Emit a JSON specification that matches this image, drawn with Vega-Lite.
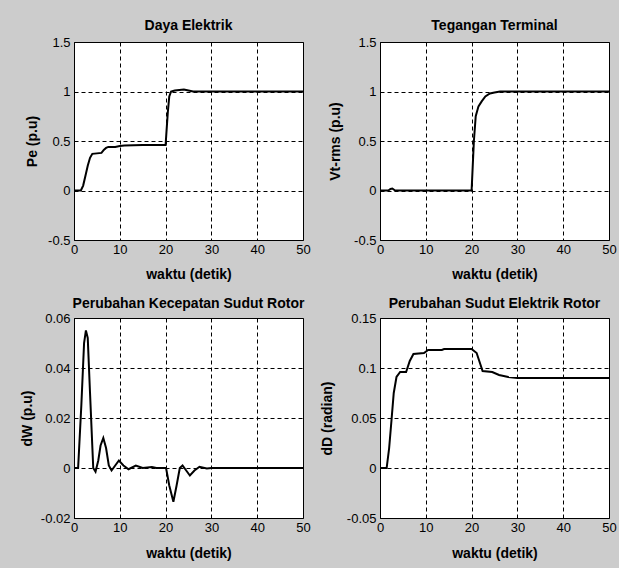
{
  "$schema": "https://vega.github.io/schema/vega-lite/v6.json",
  "autosize": {"type": "none"},
  "padding": {"left": 74, "top": 42, "right": 545, "bottom": 526},
  "background": "#cccccc",
  "datasets": {
    "pe": [
      {"t": 0, "v": 0}, {"t": 1.5, "v": 0}, {"t": 2, "v": 0.05}, {"t": 2.5, "v": 0.15}, {"t": 3, "v": 0.25},
      {"t": 3.5, "v": 0.33}, {"t": 4, "v": 0.37}, {"t": 5, "v": 0.375}, {"t": 6, "v": 0.38}, {"t": 6.5, "v": 0.41},
      {"t": 7, "v": 0.43}, {"t": 7.5, "v": 0.44}, {"t": 9, "v": 0.44}, {"t": 10, "v": 0.45}, {"t": 11, "v": 0.455},
      {"t": 15, "v": 0.46}, {"t": 20, "v": 0.46}, {"t": 20.2, "v": 0.6}, {"t": 20.5, "v": 0.8}, {"t": 20.8, "v": 0.95},
      {"t": 21.2, "v": 1.0}, {"t": 22, "v": 1.01}, {"t": 23, "v": 1.015}, {"t": 24, "v": 1.02}, {"t": 25, "v": 1.01},
      {"t": 26, "v": 1.0}, {"t": 50, "v": 1.0}
    ],
    "vt": [
      {"t": 0, "v": 0}, {"t": 1.8, "v": 0}, {"t": 2.3, "v": 0.015}, {"t": 2.7, "v": 0.02}, {"t": 3.3, "v": 0},
      {"t": 20, "v": 0}, {"t": 20.3, "v": 0.3}, {"t": 20.5, "v": 0.5}, {"t": 20.9, "v": 0.75}, {"t": 21.5, "v": 0.85},
      {"t": 22.2, "v": 0.9}, {"t": 23, "v": 0.95}, {"t": 24, "v": 0.98}, {"t": 25, "v": 0.99}, {"t": 26.2, "v": 1.0},
      {"t": 50, "v": 1.0}
    ],
    "dw": [
      {"t": 0, "v": 0}, {"t": 0.9, "v": 0}, {"t": 1.6, "v": 0.025}, {"t": 2.2, "v": 0.05}, {"t": 2.6, "v": 0.055},
      {"t": 3.0, "v": 0.052}, {"t": 3.5, "v": 0.03}, {"t": 4.2, "v": 0}, {"t": 4.7, "v": -0.0015}, {"t": 5.3, "v": 0.003},
      {"t": 5.8, "v": 0.009}, {"t": 6.4, "v": 0.012}, {"t": 7.0, "v": 0.008}, {"t": 7.6, "v": 0.001}, {"t": 8.2, "v": -0.001},
      {"t": 9.0, "v": 0.001}, {"t": 9.8, "v": 0.003}, {"t": 10.8, "v": 0.001}, {"t": 11.9, "v": -0.0005}, {"t": 13.5, "v": 0.001},
      {"t": 15, "v": 0}, {"t": 17, "v": 0.0004}, {"t": 18, "v": 0}, {"t": 20.1, "v": 0}, {"t": 20.8, "v": -0.007},
      {"t": 21.7, "v": -0.0135}, {"t": 22.4, "v": -0.007}, {"t": 23.1, "v": 0}, {"t": 23.7, "v": 0.001}, {"t": 24.5, "v": -0.001},
      {"t": 25.3, "v": -0.003}, {"t": 26.3, "v": -0.001}, {"t": 27.4, "v": 0.0005}, {"t": 29, "v": -0.0002}, {"t": 30, "v": 0},
      {"t": 50, "v": 0}
    ],
    "dd": [
      {"t": 0, "v": 0}, {"t": 1.45, "v": 0}, {"t": 2.0, "v": 0.02}, {"t": 2.55, "v": 0.05}, {"t": 3.0, "v": 0.075},
      {"t": 3.6, "v": 0.091}, {"t": 4.4, "v": 0.096}, {"t": 5.7, "v": 0.096}, {"t": 6.5, "v": 0.107}, {"t": 7.3, "v": 0.114},
      {"t": 9.6, "v": 0.115}, {"t": 10.5, "v": 0.118}, {"t": 13.5, "v": 0.118}, {"t": 14, "v": 0.119}, {"t": 20, "v": 0.119},
      {"t": 21.1, "v": 0.115}, {"t": 22.4, "v": 0.097}, {"t": 24.5, "v": 0.096}, {"t": 26, "v": 0.093}, {"t": 28, "v": 0.091},
      {"t": 30, "v": 0.09}, {"t": 50, "v": 0.09}
    ]
  },
  "config": {
    "view": {"stroke": "#000000", "strokeWidth": 1, "fill": "#ffffff"},
    "font": "Liberation Sans",
    "title": {"fontSize": 14, "fontWeight": "bold", "color": "#000000", "font": "Liberation Sans", "frame": "group", "anchor": "middle", "baseline": "alphabetic"},
    "axis": {
      "labelFont": "Liberation Sans", "labelFontSize": 13, "labelColor": "#000000",
      "titleFont": "Liberation Sans", "titleFontSize": 14, "titleFontWeight": "bold", "titleColor": "#000000",
      "domain": false, "ticks": false, "grid": true, "gridColor": "#000000", "gridDash": [4, 3], "gridOpacity": 1, "gridWidth": 1,
      "labelFlush": false, "labelOverlap": false, "labelBound": false, "labelExpr": "'' + datum.value"
    },
    "axisX": {"labelPadding": 3, "titleBaseline": "middle"},
    "axisY": {"labelPadding": 4, "titleBaseline": "middle", "titleAngle": -90}
  },
  "columns": 2,
  "bounds": "flush",
  "spacing": {"row": 78, "column": 77},
  "concat": [
    {
      "data": {"name": "pe"},
      "title": {"text": "Daya Elektrik", "offset": 3},
      "width": 229, "height": 198,
      "mark": {"type": "line", "color": "#000000", "strokeWidth": 2, "clip": true},
      "encoding": {
        "x": {"field": "t", "type": "quantitative", "scale": {"domain": [0, 50], "nice": false, "zero": false},
              "axis": {"title": "waktu (detik)", "values": [0, 10, 20, 30, 40, 50], "titleY": 34}},
        "y": {"field": "v", "type": "quantitative", "scale": {"domain": [-0.5, 1.5], "nice": false, "zero": false},
              "axis": {"title": "Pe (p.u)", "values": [-0.5, 0, 0.5, 1, 1.5], "titleX": -42}}
      }
    },
    {
      "data": {"name": "vt"},
      "title": {"text": "Tegangan Terminal", "offset": 3},
      "width": 229, "height": 198,
      "mark": {"type": "line", "color": "#000000", "strokeWidth": 2, "clip": true},
      "encoding": {
        "x": {"field": "t", "type": "quantitative", "scale": {"domain": [0, 50], "nice": false, "zero": false},
              "axis": {"title": "waktu (detik)", "values": [0, 10, 20, 30, 40, 50], "titleY": 34}},
        "y": {"field": "v", "type": "quantitative", "scale": {"domain": [-0.5, 1.5], "nice": false, "zero": false},
              "axis": {"title": "Vt-rms (p.u)", "values": [-0.5, 0, 0.5, 1, 1.5], "titleX": -45}}
      }
    },
    {
      "data": {"name": "dw"},
      "title": {"text": "Perubahan Kecepatan Sudut Rotor", "offset": 1},
      "width": 229, "height": 200,
      "mark": {"type": "line", "color": "#000000", "strokeWidth": 2, "clip": true},
      "encoding": {
        "x": {"field": "t", "type": "quantitative", "scale": {"domain": [0, 50], "nice": false, "zero": false},
              "axis": {"title": "waktu (detik)", "values": [0, 10, 20, 30, 40, 50], "titleY": 35}},
        "y": {"field": "v", "type": "quantitative", "scale": {"domain": [-0.02, 0.06], "nice": false, "zero": false},
              "axis": {"title": "dW (p.u)", "values": [-0.02, 0, 0.02, 0.04, 0.06], "titleX": -47}}
      }
    },
    {
      "data": {"name": "dd"},
      "title": {"text": "Perubahan Sudut Elektrik Rotor", "offset": 1},
      "width": 229, "height": 200,
      "mark": {"type": "line", "color": "#000000", "strokeWidth": 2, "clip": true},
      "encoding": {
        "x": {"field": "t", "type": "quantitative", "scale": {"domain": [0, 50], "nice": false, "zero": false},
              "axis": {"title": "waktu (detik)", "values": [0, 10, 20, 30, 40, 50], "titleY": 35}},
        "y": {"field": "v", "type": "quantitative", "scale": {"domain": [-0.05, 0.15], "nice": false, "zero": false},
              "axis": {"title": "dD (radian)", "values": [-0.05, 0, 0.05, 0.1, 0.15], "titleX": -53}}
      }
    }
  ]
}
